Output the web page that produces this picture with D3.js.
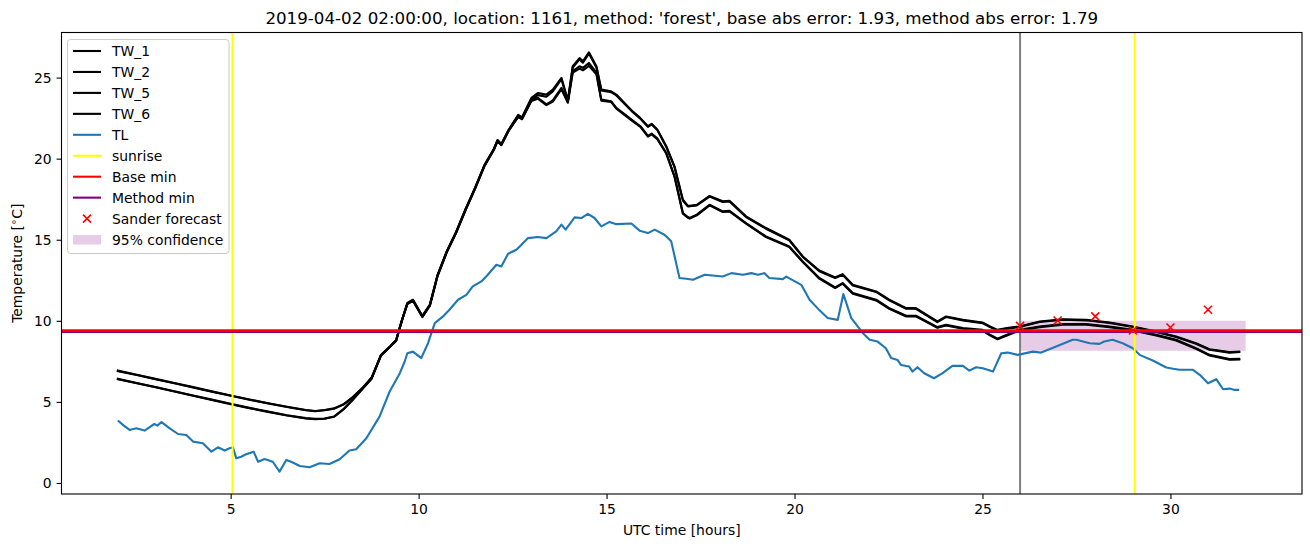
<!DOCTYPE html>
<html><head><meta charset="utf-8">
<script src="https://cdn.jsdelivr.net/npm/d3@7"></script>
<style>body{margin:0;background:#fff;} text{font-family:"DejaVu Sans",sans-serif;}</style>
</head><body><svg id="c" width="1310" height="547"></svg>
<script>
const titleText = "2019-04-02 02:00:00, location: 1161, method: 'forest', base abs error: 1.93, method abs error: 1.79";
const xTicks = [5, 10, 15, 20, 25, 30];
const yTicks = [0, 5, 10, 15, 20, 25];

const twTimes = [2.0,2.5,3.0,3.5,4.0,4.5,5.0,5.5,6.0,6.5,7.0,7.25,7.5,7.75,8.0,8.25,8.5,8.75,9.0,9.25,9.4,9.55,9.7,9.85,10.1,10.3,10.5,10.75,11.0,11.25,11.5,11.75,12.0,12.1,12.2,12.4,12.65,12.75,13.0,13.17,13.4,13.57,13.8,13.97,14.1,14.28,14.37,14.53,14.73,14.86,15.12,15.26,15.7,15.9,16.1,16.2,16.35,16.59,16.81,17.03,17.16,17.21,17.4,17.74,18.09,18.27,18.71,19.24,19.86,20.22,20.66,21.08,21.28,21.55,22.17,22.52,22.97,23.23,23.8,24.03,24.48,25.0,25.2,25.4,25.65,25.98,26.52,27.14,27.76,28.38,29.0,29.62,30.15,30.68,31.04,31.57,31.83];
const tw1 = [6.93,6.68,6.42,6.17,5.91,5.65,5.40,5.15,4.92,4.70,4.50,4.44,4.50,4.60,4.85,5.30,5.85,6.50,7.90,8.45,8.80,10.0,11.1,11.3,10.3,11.0,12.8,14.3,15.5,16.9,18.2,19.6,20.6,21.15,20.9,21.8,22.7,22.55,23.75,24.05,23.95,24.26,24.98,23.6,25.7,26.2,26.0,26.56,25.7,24.26,24.15,23.95,22.9,22.5,22.0,22.15,21.8,20.76,19.5,17.47,17.1,17.1,17.15,17.7,17.37,17.4,16.44,15.72,15.0,13.97,13.1,12.68,12.88,12.22,11.81,11.3,10.78,10.78,9.96,10.27,10.06,9.9,9.65,9.44,9.55,9.65,9.96,10.1,10.06,9.9,9.65,9.34,9.03,8.62,8.25,8.07,8.1];
const tw2 = [6.90,6.66,6.40,6.15,5.89,5.63,5.38,5.13,4.90,4.68,4.48,4.42,4.48,4.58,4.83,5.28,5.83,6.48,7.88,8.43,8.78,9.98,11.08,11.28,10.28,10.98,12.78,14.28,15.48,16.88,18.18,19.58,20.58,21.12,20.88,21.78,22.65,22.5,23.65,23.92,23.82,24.15,24.9,23.55,25.62,26.12,25.92,26.48,25.62,24.2,24.1,23.9,22.86,22.46,21.96,22.1,21.76,20.72,19.46,17.42,17.06,17.06,17.12,17.66,17.33,17.36,16.4,15.68,14.96,13.94,13.06,12.64,12.84,12.18,11.78,11.26,10.74,10.74,9.92,10.23,10.02,9.86,9.62,9.41,9.52,9.62,9.93,10.07,10.03,9.87,9.62,9.31,9.0,8.59,8.22,8.04,8.07];
const tw5 = [6.42,6.17,5.92,5.66,5.40,5.14,4.88,4.63,4.40,4.18,4.00,3.95,3.98,4.10,4.55,5.15,5.80,6.45,7.88,8.43,8.78,9.98,11.05,11.25,10.25,10.95,12.75,14.25,15.45,16.85,18.15,19.55,20.55,21.1,20.85,21.75,22.6,22.45,23.6,23.75,23.35,23.6,24.36,23.5,25.4,25.7,25.6,25.9,25.3,23.64,23.54,23.13,22.35,22.0,21.4,21.55,21.25,20.35,18.9,16.65,16.4,16.34,16.55,17.16,16.75,16.78,16.03,15.2,14.59,13.66,12.64,12.06,12.33,11.71,11.3,10.78,10.31,10.31,9.61,9.75,9.55,9.44,9.14,8.9,9.14,9.44,9.65,9.8,9.8,9.65,9.44,9.14,8.83,8.31,7.9,7.64,7.65];
const tw6 = [6.40,6.15,5.90,5.64,5.38,5.12,4.86,4.61,4.38,4.16,3.98,3.93,3.96,4.08,4.53,5.13,5.78,6.43,7.86,8.41,8.76,9.96,11.03,11.23,10.23,10.93,12.73,14.23,15.43,16.83,18.13,19.53,20.53,21.08,20.83,21.73,22.58,22.43,23.55,23.7,23.3,23.52,24.28,23.45,25.3,25.55,25.45,25.72,25.2,23.58,23.5,23.08,22.3,21.96,21.36,21.5,21.2,20.3,18.86,16.6,16.36,16.3,16.5,17.12,16.71,16.74,15.99,15.16,14.55,13.62,12.6,12.02,12.29,11.67,11.26,10.74,10.27,10.27,9.57,9.71,9.51,9.4,9.1,8.86,9.1,9.4,9.61,9.76,9.76,9.61,9.4,9.1,8.79,8.27,7.86,7.6,7.61];

const tlTimes = [2.0,2.15,2.31,2.49,2.71,2.97,3.05,3.16,3.38,3.6,3.82,4.0,4.26,4.49,4.66,4.84,4.97,5.06,5.15,5.28,5.41,5.61,5.73,5.9,6.12,6.3,6.48,6.61,6.84,7.1,7.37,7.63,7.9,8.16,8.34,8.61,8.96,9.23,9.5,9.63,9.7,9.85,10.07,10.25,10.43,10.65,10.82,11.05,11.27,11.44,11.67,11.84,12.07,12.2,12.38,12.6,12.69,12.91,13.17,13.4,13.66,13.8,13.91,14.15,14.33,14.5,14.68,14.86,15.08,15.26,15.66,15.88,16.1,16.28,16.54,16.72,16.94,17.12,17.3,17.61,18.09,18.32,18.63,18.85,19.03,19.2,19.33,19.69,19.78,20.18,20.4,20.66,20.88,21.15,21.3,21.51,21.82,22.0,22.21,22.43,22.57,22.74,22.83,23.05,23.14,23.27,23.45,23.71,23.94,24.2,24.48,24.65,24.83,25.01,25.28,25.5,25.67,25.94,26.34,26.56,26.96,27.4,27.5,27.85,28.11,28.24,28.46,28.73,29.0,29.18,29.53,29.89,30.07,30.24,30.6,30.78,31.0,31.22,31.4,31.57,31.71,31.83];
const tlValues = [3.85,3.55,3.27,3.37,3.23,3.64,3.54,3.75,3.37,3.02,2.96,2.55,2.45,1.93,2.2,2.0,2.14,2.2,1.52,1.62,1.77,1.93,1.31,1.48,1.31,0.7,1.42,1.31,1.05,0.97,1.22,1.17,1.46,2.0,2.08,2.76,4.09,5.64,6.77,7.49,8.0,8.1,7.7,8.62,9.86,10.27,10.68,11.3,11.6,12.12,12.43,12.84,13.46,13.35,14.14,14.38,14.59,15.1,15.17,15.1,15.51,15.93,15.62,16.38,16.34,16.6,16.34,15.82,16.1,15.96,16.0,15.56,15.41,15.62,15.31,14.9,12.64,12.59,12.53,12.84,12.73,12.94,12.84,12.94,12.84,12.94,12.64,12.57,12.73,12.22,11.3,10.66,10.17,10.06,11.65,10.17,9.24,8.83,8.72,8.31,7.7,7.59,7.28,7.18,6.87,7.14,6.77,6.46,6.77,7.22,7.22,6.93,7.14,7.08,6.87,8.0,8.04,7.9,8.1,8.04,8.41,8.83,8.83,8.62,8.58,8.72,8.83,8.62,8.31,7.9,7.55,7.12,7.04,6.98,6.98,6.67,6.15,6.4,5.78,5.82,5.74,5.74];

const sunriseTimes = [5.05, 29.05];
const forecastTime = [26];
const baseMin = [9.40];
const methodMin = [9.33];
const sanderTimes = [26, 27, 28, 29, 30, 31];
const sanderValues = [9.69, 10.02, 10.27, 9.4, 9.59, 10.68];
const confTimes = [26, 32];
const confLow = [8.15, 8.15];
const confHigh = [10.0, 10.0];

const legendLabels = ["TW_1","TW_2","TW_5","TW_6","TL","sunrise","Base min","Method min","Sander forecast","95% confidence"];

const W = 1310, H = 547;
const m = {left: 61.5, right: 1302, top: 32.5, bottom: 494};
const svg = d3.select("#c");
const x = d3.scaleLinear().domain([0.5, 33.5]).range([m.left, m.right]);
const y = d3.scaleLinear().domain([-0.68, 27.78]).range([m.bottom, m.top]);

svg.append("defs").append("clipPath").attr("id","clip").append("rect")
  .attr("x", m.left).attr("y", m.top).attr("width", m.right-m.left).attr("height", m.bottom-m.top);
const g = svg.append("g").attr("clip-path","url(#clip)");

// confidence band
const area = d3.area().x((d,i)=>x(confTimes[i])).y0((d,i)=>y(confLow[i])).y1((d,i)=>y(confHigh[i]));
g.append("path").datum(confTimes).attr("d", area).attr("fill","purple").attr("fill-opacity",0.2);

// forecast vertical line
forecastTime.forEach(t=>{
  g.append("line").attr("x1",x(t)).attr("x2",x(t)).attr("y1",m.top).attr("y2",m.bottom)
    .attr("stroke","grey").attr("stroke-width",2);
});

const line = (ts)=>d3.line().x((d,i)=>x(ts[i])).y(d=>y(d));
[tw1,tw2,tw5,tw6].forEach(s=>{
  g.append("path").datum(s).attr("d", line(twTimes)).attr("fill","none")
    .attr("stroke","black").attr("stroke-width",2.1).attr("stroke-linejoin","round").attr("stroke-linecap","square");
});
g.append("path").datum(tlValues).attr("d", line(tlTimes)).attr("fill","none")
  .attr("stroke","#1f77b4").attr("stroke-width",2.1).attr("stroke-linejoin","round");

sunriseTimes.forEach(t=>{
  g.append("line").attr("x1",x(t)).attr("x2",x(t)).attr("y1",m.top).attr("y2",m.bottom)
    .attr("stroke","#ffff00").attr("stroke-width",2);
});
methodMin.forEach(v=>{
  g.append("line").attr("x1",m.left).attr("x2",m.right).attr("y1",y(v)).attr("y2",y(v))
    .attr("stroke","purple").attr("stroke-width",2.5);
});
baseMin.forEach(v=>{
  g.append("line").attr("x1",m.left).attr("x2",m.right).attr("y1",y(v)).attr("y2",y(v))
    .attr("stroke","red").attr("stroke-width",2.5);
});
const xs = 4;
sanderTimes.forEach((t,i)=>{
  const cx = x(t), cy = y(sanderValues[i]);
  g.append("path").attr("d",`M${cx-xs},${cy-xs}L${cx+xs},${cy+xs}M${cx-xs},${cy+xs}L${cx+xs},${cy-xs}`)
    .attr("stroke","red").attr("stroke-width",1.6).attr("fill","none");
});

// axes
const xAxis = d3.axisBottom(x).tickValues(xTicks).tickSize(4.9).tickPadding(4.9).tickFormat(d3.format("d"));
const yAxis = d3.axisLeft(y).tickValues(yTicks).tickSize(4.9).tickPadding(4.9).tickFormat(d3.format("d"));
const gx = svg.append("g").attr("transform",`translate(0,${m.bottom})`).call(xAxis);
const gy = svg.append("g").attr("transform",`translate(${m.left},0)`).call(yAxis);
[gx,gy].forEach(a=>{
  a.select(".domain").remove();
  a.selectAll(".tick line").attr("stroke","black").attr("stroke-width",1.1);
  a.selectAll(".tick text").attr("font-size","13.9px").attr("fill","black").attr("font-family","DejaVu Sans");
});
svg.append("rect").attr("x",m.left).attr("y",m.top).attr("width",m.right-m.left).attr("height",m.bottom-m.top)
  .attr("fill","none").attr("stroke","black").attr("stroke-width",1.1);

svg.append("text").attr("x",(m.left+m.right)/2).attr("y",24).attr("text-anchor","middle")
  .attr("font-size","16.7px").text(titleText);
svg.append("text").attr("x",(m.left+m.right)/2).attr("y",535).attr("text-anchor","middle")
  .attr("font-size","13.9px").text("UTC time [hours]");
const yl = svg.append("text").attr("transform",`translate(22,${(m.top+m.bottom)/2}) rotate(-90)`)
  .attr("text-anchor","middle").attr("font-size","13.9px");
yl.append("tspan").text("Temperature [");
yl.append("tspan").attr("font-size","10px").attr("dy","-5").text("\u2218");
yl.append("tspan").attr("dy","5").text("C]");

// legend
const lg = svg.append("g");
lg.append("rect").attr("x",67.5).attr("y",39.5).attr("width",161.5).attr("height",214).attr("rx",3)
  .attr("fill","white").attr("fill-opacity",0.8).attr("stroke","#cccccc").attr("stroke-width",1);
const ly0 = 51, ldy = 20.95;
const legendStyles = [
  {t:"line",c:"black"},{t:"line",c:"black"},{t:"line",c:"black"},{t:"line",c:"black"},
  {t:"line",c:"#1f77b4"},{t:"line",c:"#ffff00"},{t:"line",c:"red"},{t:"line",c:"purple"},
  {t:"x",c:"red"},{t:"patch",c:"purple"}];
legendLabels.forEach((lab,i)=>{
  const yy = ly0 + i*ldy;
  const s = legendStyles[i];
  if (s.t==="line") {
    lg.append("line").attr("x1",73).attr("x2",101).attr("y1",yy).attr("y2",yy).attr("stroke",s.c).attr("stroke-width",2.1);
  } else if (s.t==="x") {
    const cx=87, cy=yy;
    lg.append("path").attr("d",`M${cx-xs},${cy-xs}L${cx+xs},${cy+xs}M${cx-xs},${cy+xs}L${cx+xs},${cy-xs}`)
      .attr("stroke",s.c).attr("stroke-width",1.6);
  } else {
    lg.append("rect").attr("x",73).attr("y",yy-4.5).attr("width",28).attr("height",9.5).attr("fill",s.c).attr("fill-opacity",0.2);
  }
  lg.append("text").attr("x",112).attr("y",yy+5).attr("font-size","13.9px").text(lab);
});
</script></body></html>
